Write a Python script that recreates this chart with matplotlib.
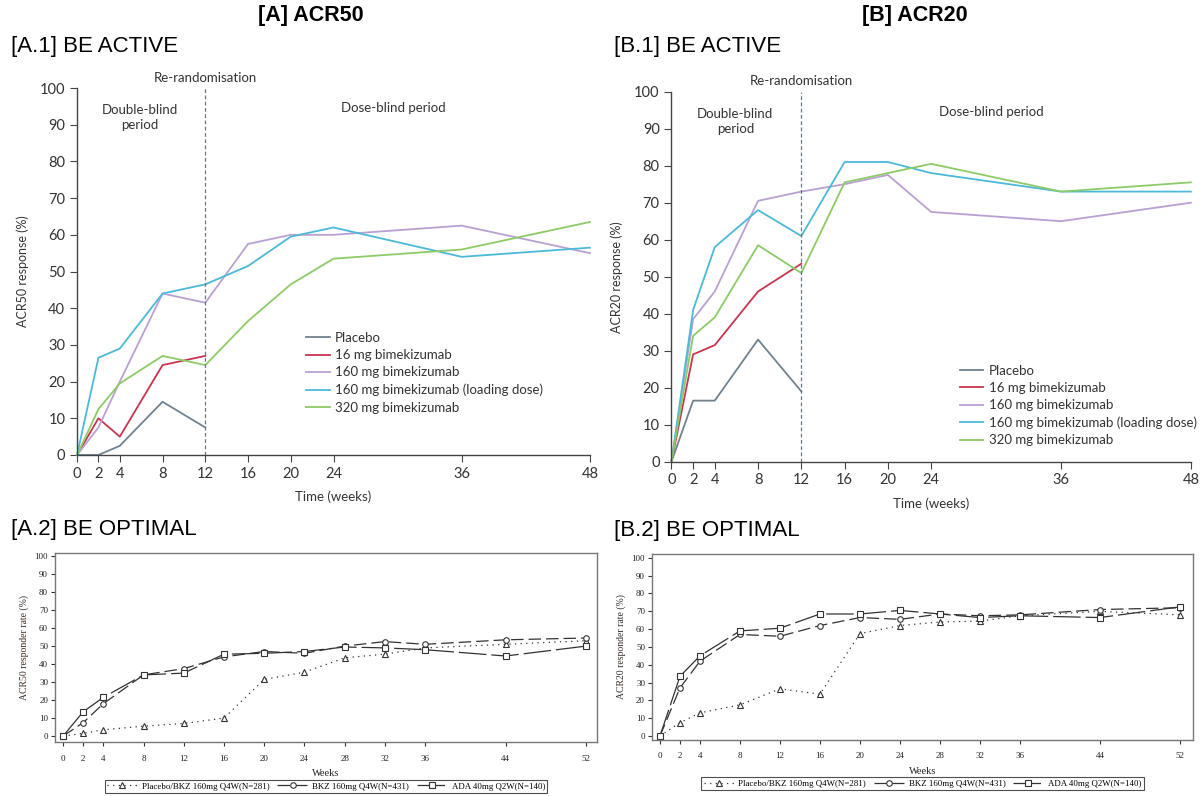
import matplotlib
matplotlib.use('Agg')
from matplotlib import pyplot as plt
import matplotlib.font_manager as fm

# a narrow-ish sans for the Lancet panels, serif for the SAS panels
names = {f.name for f in fm.fontManager.ttflist}
narrow = 'Liberation Sans Narrow' if 'Liberation Sans Narrow' in names else 'Lato'
head = 'Liberation Sans' if 'Liberation Sans' in names else 'DejaVu Sans'
serif = 'Liberation Serif' if 'Liberation Serif' in names else 'DejaVu Serif'

# ---- data: BE ACTIVE (weeks 0..48) ----
weeks_active = [0, 2, 4, 8, 12, 16, 20, 24, 36, 48]
active_labels = ['Placebo', '16 mg bimekizumab', '160 mg bimekizumab',
                 '160 mg bimekizumab (loading dose)', '320 mg bimekizumab']
active_colors = ['#6f8290', '#c9344f', '#b9a0d2', '#4bb9d9', '#8ccb66']

acr50_placebo = [0, 0, 2.5, 14.5, 7.5]
acr50_16 = [0, 10, 5, 24.5, 27]
acr50_160 = [0, 7.5, 20, 44, 41.5, 57.5, 60, 60, 62.5, 55]
acr50_160ld = [0, 26.5, 29, 44, 46.5, 51.5, 59.5, 62, 54, 56.5]
acr50_320 = [0, 12.5, 19.5, 27, 24.5, 36.5, 46.5, 53.5, 56, 63.5]

acr20_placebo = [0, 16.5, 16.5, 33, 19]
acr20_16 = [0, 29, 31.5, 46, 53.5]
acr20_160 = [0, 38.5, 46, 70.5, 73, 75, 77.5, 67.5, 65, 70]
acr20_160ld = [0, 41, 58, 68, 61, 81, 81, 78, 73, 73]
acr20_320 = [0, 34, 39, 58.5, 51, 75.5, 78, 80.5, 73, 75.5]

# ---- data: BE OPTIMAL (weeks 0..52) ----
weeks_optimal = [0, 2, 4, 8, 12, 16, 20, 24, 28, 32, 36, 44, 52]
optimal_labels = ['Placebo/BKZ 160mg Q4W(N=281)', 'BKZ 160mg Q4W(N=431)',
                  'ADA 40mg Q2W(N=140)']

opt50_placebo = [0, 1.5, 3.5, 5.5, 7, 10, 31.5, 35.5, 43.5, 45.5, 49, 51, 53]
opt50_bkz = [0, 7.5, 18, 34, 37.5, 44, 47, 46, 50, 52.5, 51, 53.5, 54.5]
opt50_ada = [0, 13.5, 21.5, 34, 35, 45.5, 46, 47, 49.5, 49, 48, 44.5, 50]

opt20_placebo = [0, 7.5, 13, 17.5, 26.5, 23.5, 57.5, 62, 64, 64.5, 67.5, 70, 68]
opt20_bkz = [0, 27, 42, 57, 56, 62, 66.5, 65.5, 68.5, 67.5, 68, 71, 72]
opt20_ada = [0, 33.5, 45, 59, 60.5, 68.5, 68.5, 70.5, 68.5, 66.5, 67.5, 66.5, 72.5]

fig = plt.figure(figsize=(12.04, 7.96), dpi=100)

# headers
fig.text(0.258, 0.981, '[A] ACR50', ha='center', va='center', fontsize=15.5,
         fontweight='bold', family=head)
fig.text(0.76, 0.981, '[B] ACR20', ha='center', va='center', fontsize=15.5,
         fontweight='bold', family=head)
fig.text(0.009, 0.941, '[A.1] BE ACTIVE', ha='left', va='center', fontsize=16, family=head)
fig.text(0.510, 0.941, '[B.1] BE ACTIVE', ha='left', va='center', fontsize=16, family=head)
fig.text(0.009, 0.335, '[A.2] BE OPTIMAL', ha='left', va='center', fontsize=16, family=head)
fig.text(0.510, 0.333, '[B.2] BE OPTIMAL', ha='left', va='center', fontsize=16, family=head)


def active_panel(rect, series, ylabel, leg_anchor):
    ax = fig.add_axes(rect)
    for vals, lab, col in zip(series, active_labels, active_colors):
        ax.plot(weeks_active[:len(vals)], vals, color=col, lw=1.3, label=lab,
                clip_on=False)
    ax.axvline(12, color='#6a7580', lw=0.9, ls=(0, (3, 2)))
    ax.set_xlim(0, 48)
    ax.set_ylim(0, 100)
    ax.set_xticks(weeks_active)
    ax.set_yticks(range(0, 101, 10))
    for s in ['top', 'right']:
        ax.spines[s].set_visible(False)
    for s in ['left', 'bottom']:
        ax.spines[s].set_color('#444444')
        ax.spines[s].set_linewidth(1.0)
    ax.tick_params(direction='out', length=5, color='#444444', labelcolor='#333333',
                   labelsize=10.5)
    for t in ax.get_xticklabels() + ax.get_yticklabels():
        t.set_family(narrow)
    ax.set_xlabel('Time (weeks)', fontsize=9.5, family=narrow,
                  color='#333333', labelpad=7)
    ax.set_ylabel(ylabel, fontsize=9, family=narrow,
                  color='#333333', labelpad=8)
    kw = dict(ha='center', va='center', fontsize=9.5, family=narrow, color='#333333')
    ax.text(12, 102.8, 'Re-randomisation', **kw)
    ax.text(5.9, 92, 'Double-blind\nperiod', linespacing=1.35, **kw)
    ax.text(29.6, 94.5, 'Dose-blind period', **kw)
    leg = ax.legend(loc='upper left', bbox_to_anchor=leg_anchor,
                    bbox_transform=fig.transFigure, frameon=False,
                    borderpad=0, borderaxespad=0, handlelength=1.8,
                    handletextpad=0.4, labelspacing=0.4,
                    prop=fm.FontProperties(family=narrow, size=9.5))
    for t in leg.get_texts():
        t.set_color('#333333')
    return ax


active_panel([0.064, 0.4284, 0.426, 0.461],
             [acr50_placebo, acr50_16, acr50_160, acr50_160ld, acr50_320],
             'ACR50 response (%)', (0.254, 0.583))
active_panel([0.5577, 0.42, 0.4314, 0.4648],
             [acr20_placebo, acr20_16, acr20_160, acr20_160ld, acr20_320],
             'ACR20 response (%)', (0.797, 0.542))


def optimal_panel(rect, series, ylabel, xlim, ylim):
    ax = fig.add_axes(rect)
    styles = [dict(ls=(0, (1, 3.5)), marker='^'),
              dict(ls=(0, (10, 4)), marker='o'),
              dict(ls=(0, (22, 4)), marker='s')]
    for vals, lab, st in zip(series, optimal_labels, styles):
        ax.plot(weeks_optimal, vals, color='#333333', lw=0.9, ls=st['ls'],
                marker=st['marker'], ms=4, mfc='white', mec='#333333', mew=0.8,
                label=lab)
    ax.set_xlim(*xlim)
    ax.set_ylim(*ylim)
    ax.set_xticks(weeks_optimal)
    ax.set_yticks(range(0, 101, 10))
    for s in ax.spines.values():
        s.set_color('#777777')
        s.set_linewidth(1.0)
    ax.tick_params(direction='out', length=3, color='#333333', labelcolor='#222222',
                   labelsize=6.5, pad=2)
    ax.tick_params(axis='x', pad=6)
    for t in ax.get_xticklabels() + ax.get_yticklabels():
        t.set_family(serif)
    ax.set_xlabel('Weeks', fontsize=7.5, family=serif, color='#222222', labelpad=5)
    ax.set_ylabel(ylabel, fontsize=7, family=serif, color='#3a2e26', labelpad=4)
    leg = ax.legend(loc='center', bbox_to_anchor=(0.5, -0.235), ncol=3,
                    frameon=True, fancybox=False, edgecolor='#222222',
                    borderpad=0.25, handlelength=3.4, handletextpad=0.5,
                    columnspacing=0.9, prop=fm.FontProperties(family=serif, size=6.4))
    leg.get_frame().set_linewidth(0.8)
    return ax


optimal_panel([0.0457, 0.0678, 0.4502, 0.2374],
              [opt50_placebo, opt50_bkz, opt50_ada],
              'ACR50 responder rate (%)', (-0.8, 53.1), (-3.3, 101.7))
optimal_panel([0.5415, 0.0704, 0.4493, 0.2337],
              [opt20_placebo, opt20_bkz, opt20_ada],
              'ACR20 responder rate (%)', (-0.8, 53.3), (-2.2, 102.2))

fig.savefig('out.png', dpi=100)
